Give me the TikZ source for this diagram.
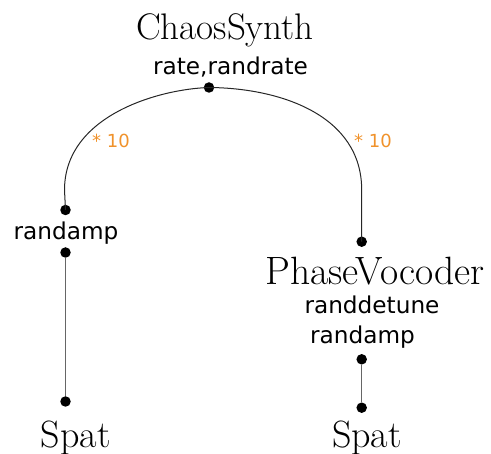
\documentclass[tikz,border=0pt]{standalone}
\usepackage{fontspec}
\setsansfont{DejaVu Sans}
\definecolor{lblorange}{HTML}{F0922B}
\tikzset{
  dotnode/.style={circle,fill=black,inner sep=0pt,minimum size=10.5pt},
  title/.style={font=\fontsize{37}{42}\selectfont,inner sep=0pt,anchor=base},
  param/.style={font=\sffamily\fontsize{23.2}{27}\selectfont,inner sep=0pt,anchor=base},
  mult/.style={font=\sffamily\fontsize{18}{21}\selectfont,text=lblorange,inner sep=0pt,anchor=base},
  curveline/.style={line width=1pt,black!85},
  straightline/.style={line width=1.5pt,black!60}
}
\begin{document}
\begin{tikzpicture}[x=1pt,y=-1pt]
\useasboundingbox (0,0) rectangle (491,454);
% texts
\node[title] (cs) at (225,40) {ChaosSynth};
\node[param] (rr) at (230.5,75) {rate,randrate};
\node[param] (lra) at (66,240) {randamp};
\node[title,font=\fontsize{39.5}{44}\selectfont] (pv) at (375,285) {PhaseVocoder};
\node[param] (rdt) at (372,314) {randdetune};
\node[param] (rra) at (362.5,344) {randamp};
\node[title,font=\fontsize{38}{42}\selectfont] (ls) at (75.8,447.5) {Spat};
\node[title,font=\fontsize{38}{42}\selectfont] (rs) at (367,447.5) {Spat};
\node[mult] (lm) at (111,148) {* 10};
\node[mult] (rm) at (373,148) {* 10};
% dots
\node[dotnode] (top) at (209,87.5) {};
\node[dotnode] (l1) at (65.5,210) {};
\node[dotnode] (l2) at (65.5,252.5) {};
\node[dotnode] (l3) at (65.5,401.5) {};
\node[dotnode] (r1) at (361.7,241.7) {};
\node[dotnode] (r2) at (361.7,359.3) {};
\node[dotnode] (r3) at (361.7,407.7) {};
% connectors
\coordinate (lc) at (64.5,190);
\coordinate (rc) at (361.7,190);
\draw[curveline] (top.center) .. controls (160,89) and (64.5,115) .. (lc) -- (l1.center);
\draw[curveline] (top.center) .. controls (280,88) and (361.7,115) .. (rc) -- (r1.center);
\draw[straightline] (l2) -- (l3);
\draw[straightline] (r2) -- (r3);
\end{tikzpicture}
\end{document}
